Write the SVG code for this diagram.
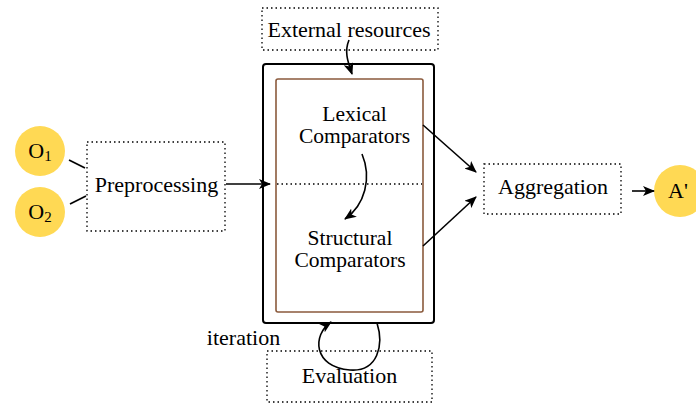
<svg xmlns="http://www.w3.org/2000/svg" width="696" height="404" viewBox="0 0 696 404">
<style>
.t{font-family:'Liberation Serif','Times New Roman',serif;font-size:22px;fill:#000;text-anchor:middle}
.t2{font-size:21.5px}
.dot{fill:none;stroke:#000;stroke-width:1.3;stroke-dasharray:1.5 3}
.circ{fill:#FFD954;stroke:none}
.ln{fill:none;stroke:#000;stroke-width:1.6}
.arr{fill:none;stroke:#000;stroke-width:1.6;marker-end:url(#ah)}
</style>
<defs>
<marker id="ah" viewBox="0 0 12 10" refX="11" refY="5" markerWidth="12" markerHeight="10" markerUnits="userSpaceOnUse" orient="auto">
<path d="M0,0 L12,5 L0,10 L3,5 Z" fill="#000"/>
</marker>
</defs>
<g id="O1"><circle class="circ" cx="40" cy="151" r="25"/><text class="t" x="40" y="158">O<tspan font-size="15" dy="3">1</tspan></text></g>
<g id="O2"><circle class="circ" cx="40" cy="212" r="25"/><text class="t" x="40" y="219">O<tspan font-size="15" dy="3">2</tspan></text></g>
<g id="preprocessing"><rect class="dot" x="87" y="142" width="138" height="89"/><text class="t" x="156.5" y="192">Preprocessing</text></g>
<g id="external"><rect class="dot" x="262" y="8" width="176" height="42"/><text class="t" x="349" y="37">External resources</text></g>
<g id="comparators">
<rect x="263" y="64" width="171" height="259" rx="3" fill="none" stroke="#000" stroke-width="2"/>
<rect x="276" y="79" width="147" height="233" rx="2" fill="none" stroke="#8B5A3C" stroke-width="1.6"/>
<line class="dot" x1="277" y1="184" x2="422" y2="184"/>
<text class="t t2" x="354.5" y="121">Lexical</text>
<text class="t t2" x="354.5" y="143">Comparators</text>
<text class="t t2" x="350" y="245">Structural</text>
<text class="t t2" x="350" y="267">Comparators</text>
</g>
<g id="aggregation"><rect class="dot" x="484" y="164" width="137" height="50"/><text class="t" x="553" y="194">Aggregation</text></g>
<g id="A"><circle class="circ" cx="680" cy="191" r="26"/><text class="t" x="678" y="198">A'</text></g>
<g id="evaluation"><rect class="dot" x="267" y="351" width="165" height="51"/><text class="t" x="349.5" y="383">Evaluation</text></g>
<text class="t" x="243.5" y="345">iteration</text>
<g id="connectors">
<line class="ln" x1="69" y1="160" x2="85" y2="168"/>
<line class="ln" x1="70" y1="204" x2="86" y2="196"/>
<line class="arr" x1="226" y1="184" x2="270" y2="184"/>
<path class="arr" d="M349,40 C344,52 348,62 352,74"/>
<path class="arr" d="M362,154 C372,178 365,205 345,219"/>
<line class="arr" x1="423" y1="125" x2="476" y2="172"/>
<line class="arr" x1="423" y1="246" x2="476" y2="197"/>
<line class="arr" x1="632" y1="191" x2="654" y2="191"/>
<path class="arr" d="M377,323 C384,345 378,372 350,370 C313,367 312,335 331,322"/>
</g>
</svg>
